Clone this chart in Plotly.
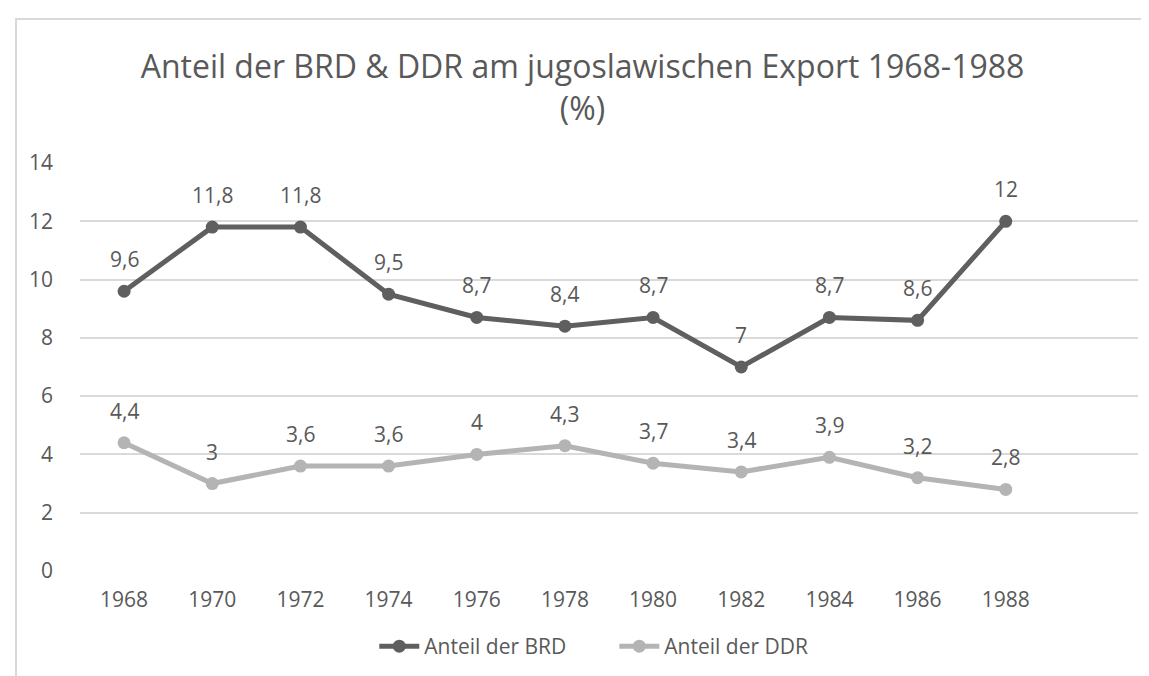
import plotly.graph_objects as go

years = ["1968", "1970", "1972", "1974", "1976", "1978", "1980", "1982", "1984", "1986", "1988", ""]
brd = [9.6, 11.8, 11.8, 9.5, 8.7, 8.4, 8.7, 7.0, 8.7, 8.6, 12.0]
ddr = [4.4, 3.0, 3.6, 3.6, 4.0, 4.3, 3.7, 3.4, 3.9, 3.2, 2.8]

c_brd = "#5f5f5f"
c_ddr = "#b4b4b4"
txt = "#595959"
font = "Open Sans, Segoe UI, sans-serif"

def fmt(v):
    return ("%g" % v).replace(".", ",")

fig = go.Figure()
fig.add_trace(go.Scatter(x=years[:len(brd)], y=brd, mode="lines+markers", name="Anteil der BRD",
                         line=dict(color=c_brd, width=5), marker=dict(size=13, color=c_brd)))
fig.add_trace(go.Scatter(x=years[:len(ddr)], y=ddr, mode="lines+markers", name="Anteil der DDR",
                         line=dict(color=c_ddr, width=5), marker=dict(size=13, color=c_ddr)))

annotations = []
for series in (brd, ddr):
    for i, v in enumerate(series):
        annotations.append(dict(x=i, y=v, xref="x", yref="y", text=fmt(v), showarrow=False,
                                yshift=32, font=dict(size=21, color=txt, family=font)))

fig.update_layout(
    width=1149, height=676,
    paper_bgcolor="white", plot_bgcolor="white",
    margin=dict(l=72, r=19, t=155, b=113),
    title=dict(text="Anteil der BRD & DDR am jugoslawischen Export 1968-1988<br>(%)",
               x=0.5, xanchor="center", y=1 - 70 / 676, yanchor="middle",
               font=dict(size=32, color=txt, family=font)),
    font=dict(family=font, color=txt, size=21),
    showlegend=True,
    legend=dict(orientation="h", x=0.505, xanchor="center", y=-0.185, yanchor="middle",
                font=dict(size=21, color=txt), itemwidth=40, entrywidth=185),
    annotations=annotations,
    xaxis=dict(type="category", categoryorder="array", categoryarray=years,
               range=[-0.5, len(years) - 0.5], showgrid=False, showline=False, zeroline=False,
               ticks="", ticklabelstandoff=14, tickfont=dict(size=21, color=txt)),
    yaxis=dict(range=[0, 14], dtick=2, showgrid=True, gridcolor="#d9d9d9", gridwidth=1.5,
               zeroline=False, showline=False, ticks="", ticklabelstandoff=26,
               tickfont=dict(size=21, color=txt)),
    shapes=[dict(type="rect", xref="paper", yref="paper",
                 x0=(8 - 72) / 1058, x1=1.2, y0=-1, y1=1 + (155 - 11) / 408,
                 line=dict(color="#d9d9d9", width=2), fillcolor="rgba(0,0,0,0)", layer="below")],
)

fig.write_html("out.html")
